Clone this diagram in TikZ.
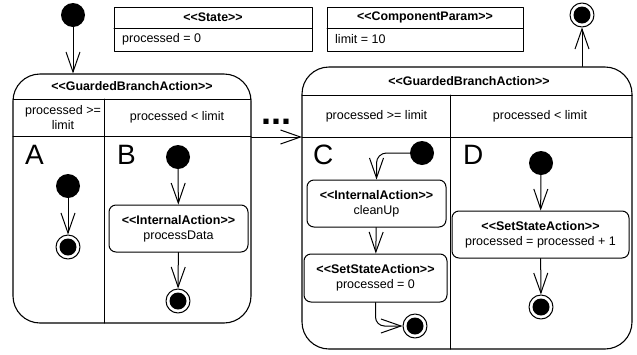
\documentclass[tikz,border=0pt]{standalone}
\usepackage{fontspec}
\newfontfamily\umlfont{Liberation Sans}
\usetikzlibrary{arrows.meta}

\tikzset{
  uml/.style={font=\umlfont\fontsize{12.5}{15}\selectfont,inner sep=0pt},
  title/.style={font=\umlfont\bfseries\fontsize{12.4}{15}\selectfont,inner sep=0pt},
  letter/.style={font=\umlfont\fontsize{28}{30}\selectfont,anchor=base west,inner sep=0pt},
  initial/.style={circle,fill=black,minimum size=24pt,inner sep=0pt},
  final/.style={circle,draw,line width=1pt,minimum size=24pt,inner sep=0pt,
    path picture={\fill (path picture bounding box.center) circle (8.5pt);}},
  action/.style={uml,draw,line width=1pt,rounded corners=7pt,align=center},
  gba/.style={draw,line width=1.1pt,rounded corners=27pt,inner sep=0pt},
  classbox/.style={draw,line width=1pt,inner sep=0pt},
  flow/.style={line width=1pt,-{Straight Barb[length=20pt,width=14pt]}},
}

\begin{document}
\begin{tikzpicture}[x=1pt,y=-1pt,line cap=round,line join=round]
  \useasboundingbox (0,0) rectangle (637,354);
  % class boxes
  \node[classbox,minimum width=198pt,minimum height=44pt] (state) at (213,29) {};
  \draw[line width=1pt] (114,28) -- (312,28);
  \node[title] (stateT) at (213,17.5) {<<State>>};
  \node[uml,anchor=west] (stateV) at (122,39.5) {processed = 0};
  \node[classbox,minimum width=196pt,minimum height=44pt] (param) at (425,29) {};
  \draw[line width=1pt] (327,28) -- (523,28);
  \node[title] (paramT) at (425,17.5) {<<ComponentParam>>};
  \node[uml,anchor=west] (paramV) at (335,39.5) {limit = 10};
  % first branch action
  \node[gba,minimum width=238pt,minimum height=249pt] (gbaL) at (132,198.5) {};
  \draw[line width=1pt] (13,99) -- (251,99);
  \draw[line width=1pt] (13,136) -- (251,136);
  \draw[line width=1pt] (104,99) -- (104,323);
  \node[title] (gbaLT) at (132,86.5) {<<GuardedBranchAction>>};
  \node[uml,align=center] (guardA) at (63,117.5) {processed >=\\limit};
  \node[uml] (guardB) at (177,117.5) {processed < limit};
  \node[letter] (lblA) at (25,164) {A};
  \node[letter] (lblB) at (117,164) {B};
  \node[initial] (initA) at (68,186) {};
  \node[final] (finA) at (68,247) {};
  \node[initial] (initB) at (178,157) {};
  \node[action,minimum width=139pt,minimum height=47pt] (actB) at (178.5,228.5)
    {\textbf{<<InternalAction>>}\\processData};
  \node[final] (finB) at (178,301) {};
  % second branch action
  \node[gba,minimum width=330pt,minimum height=282pt] (gbaR) at (467,208) {};
  \draw[line width=1pt] (302,95) -- (632,95);
  \draw[line width=1pt] (302,137) -- (632,137);
  \draw[line width=1pt] (450,95) -- (450,349);
  \node[title] (gbaRT) at (469,81) {<<GuardedBranchAction>>};
  \node[uml] (guardC) at (376.5,116) {processed >= limit};
  \node[uml] (guardD) at (540,116) {processed < limit};
  \node[letter] (lblC) at (313,164) {C};
  \node[letter] (lblD) at (463,164) {D};
  \node[initial] (initC) at (422,153) {};
  \node[action,minimum width=139pt,minimum height=47pt] (actC1) at (376.5,203.5)
    {\textbf{<<InternalAction>>}\\cleanUp};
  \node[action,minimum width=143pt,minimum height=48pt] (actC2) at (375.5,278)
    {\textbf{<<SetStateAction>>}\\processed = 0};
  \node[final] (finC) at (415,326) {};
  \node[initial] (initD) at (541,163) {};
  \node[action,minimum width=177pt,minimum height=47pt] (actD) at (540.5,234.5)
    {\textbf{<<SetStateAction>>}\\processed = processed + 1};
  \node[final] (finD) at (541,307) {};
  % outer start, end and the gap
  \node[initial] (init0) at (73,15) {};
  \node[final] (finTop) at (582,15) {};
  \node[font=\umlfont\bfseries\fontsize{36}{40}\selectfont,anchor=base,inner sep=0pt] (dots) at (276,124) {...};
  \coordinate (guardR) at (302,137);
  % flows
  \draw[flow] (init0) -- (init0 |- gbaL.north);
  \draw[flow] (gbaL.east |- guardR) -- (guardR);
  \draw[flow] (gbaR.north -| finTop) -- (finTop);
  \draw[flow] (initA) -- (finA);
  \draw[flow] (initB) -- (actB);
  \draw[flow] (actB) -- (finB);
  \draw[flow,rounded corners=10pt] (initC) -| (actC1);
  \draw[flow] (actC1) -- (actC2);
  \draw[flow,rounded corners=9pt] (actC2) |- (finC);
  \draw[flow] (initD) -- (actD);
  \draw[flow] (actD) -- (finD);
\end{tikzpicture}
\end{document}
